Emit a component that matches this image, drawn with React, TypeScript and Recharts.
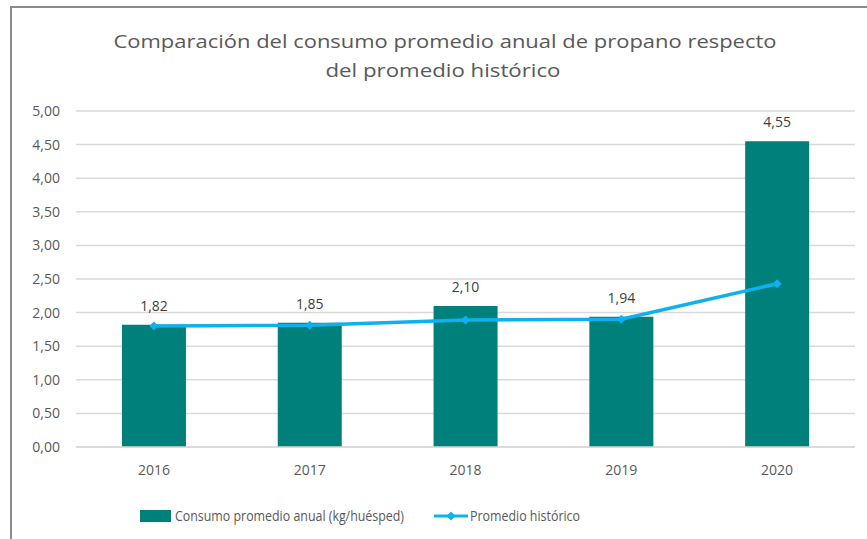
import React from 'react';
import { ComposedChart, Bar, Line, XAxis, YAxis, CartesianGrid, LabelList } from 'recharts';

const years = ['2016', '2017', '2018', '2019', '2020'];
const consumoAnual = [1.82, 1.85, 2.1, 1.94, 4.55];
const promedioHistorico = [1.8, 1.81, 1.89, 1.9, 2.43];
const yTicks = [0, 0.5, 1, 1.5, 2, 2.5, 3, 3.5, 4, 4.5, 5];
const titleLines = [
  'Comparación del consumo promedio anual de propano respecto',
  'del promedio histórico',
];
const legendBar = 'Consumo promedio anual (kg/huésped)';
const legendLine = 'Promedio histórico';

const data = years.map((y, i) => ({ year: y, consumo: consumoAnual[i], promedio: promedioHistorico[i] }));

const BAR = '#00807B';
const LINE = '#0EB1F0';
const TXT = '#595959';
const FONT = '"Open Sans", sans-serif';

const fmt = (v: number) => v.toFixed(2).replace('.', ',');

const Diamond = (props: any) => {
  const { cx, cy, index } = props;
  if (cx == null || cy == null) return <g key={index} />;
  return (
    <g key={index}>
      <path d={`M${cx},${cy - 4.5} L${cx + 4.5},${cy} L${cx},${cy + 4.5} L${cx - 4.5},${cy} Z`} fill={LINE} />
    </g>
  );
};

export default function App() {
  return (
    <div style={{ position: 'absolute', left: 0, top: 0, width: 867, height: 539, background: '#fff', overflow: 'hidden' }}>
      <div
        style={{
          position: 'absolute',
          left: 10,
          top: 6,
          width: 900,
          height: 600,
          borderLeft: '2px solid #8a8a8a',
          borderTop: '2px solid #8a8a8a',
        }}
      />
      <svg style={{ position: 'absolute', left: 0, top: 0 }} width={867} height={539}>
        <text x={445} y={48} textAnchor="middle" fontFamily={FONT} fontSize={18} fill={TXT} textLength={663} lengthAdjust="spacingAndGlyphs">
          {titleLines[0]}
        </text>
        <text x={443} y={77} textAnchor="middle" fontFamily={FONT} fontSize={18} fill={TXT} textLength={235} lengthAdjust="spacingAndGlyphs">
          {titleLines[1]}
        </text>
        <rect x={140} y={510} width={31} height={12} fill={BAR} />
        <text x={175} y={521} fontFamily={FONT} fontSize={14} fill={TXT} textLength={229} lengthAdjust="spacingAndGlyphs">
          {legendBar}
        </text>
        <line x1={434} y1={516} x2={468} y2={516} stroke={LINE} strokeWidth={3} />
        <path d="M451,511.5 L455.5,516 L451,520.5 L446.5,516 Z" fill={LINE} />
        <text x={470} y={521} fontFamily={FONT} fontSize={14} fill={TXT} textLength={110} lengthAdjust="spacingAndGlyphs">
          {legendLine}
        </text>
      </svg>
      <div style={{ position: 'absolute', left: 0, top: 0 }}>
        <ComposedChart
          width={867}
          height={539}
          data={data}
          margin={{ top: 111, right: 12, bottom: 62, left: 0 }}
          barCategoryGap="29.5%"
        >
          <CartesianGrid vertical={false} stroke="#d9d9d9" strokeWidth={1.5} />
          <XAxis
            dataKey="year"
            height={30}
            axisLine={{ stroke: '#d9d9d9', strokeWidth: 1.5 }}
            tickLine={false}
            tickSize={0}
            tickMargin={18}
            tick={{ fill: TXT, fontSize: 14, fontFamily: FONT }}
          />
          <YAxis
            width={76}
            domain={[0, 5]}
            ticks={yTicks}
            axisLine={false}
            tickLine={false}
            tickSize={0}
            tickMargin={16}
            tickFormatter={fmt}
            tick={{ fill: TXT, fontSize: 14, fontFamily: FONT }}
            interval={0}
          />
          <Bar dataKey="consumo" fill={BAR} isAnimationActive={false}>
            <LabelList dataKey="consumo" position="top" offset={14} formatter={(v: any) => fmt(Number(v))} fill="#404040" fontSize={14} fontFamily={FONT} />
          </Bar>
          <Line
            dataKey="promedio"
            stroke={LINE}
            strokeWidth={3.5}
            dot={<Diamond />}
            activeDot={false}
            isAnimationActive={false}
          />
        </ComposedChart>
      </div>
    </div>
  );
}
